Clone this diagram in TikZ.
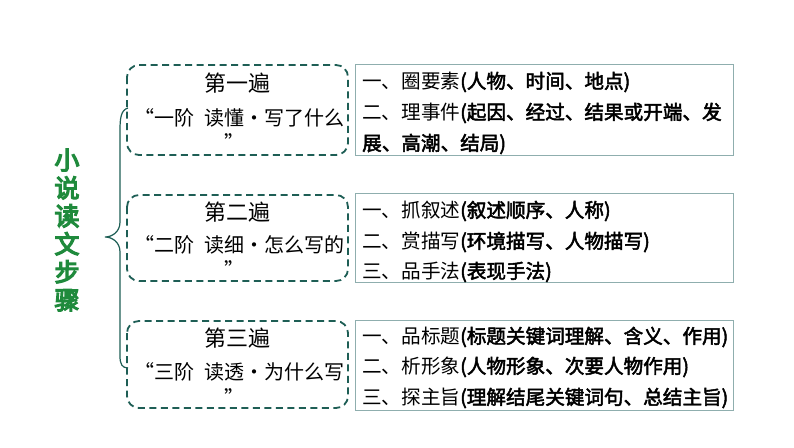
\documentclass[tikz,border=0pt]{standalone}
\usepackage{fontspec}
\setmainfont{Noto Sans CJK SC}
\newfontfamily\cjk{Noto Sans CJK SC}
\newfontfamily\cjkb[FakeBold=2.5]{Noto Sans CJK SC}
\newfontfamily\cjkt[FakeBold=5]{Noto Sans CJK SC}
\definecolor{teal}{HTML}{1E5E55}
\definecolor{titlegreen}{HTML}{1F8A3C}
\definecolor{boxgray}{HTML}{8FAEAE}
\newcommand{\rb}[1]{{\cjkb #1}}
\tikzset{
  x=1pt, y=-1pt,
  stagebox/.style={draw=teal, line width=1.8pt, dash pattern=on 7pt off 4.5pt, rounded corners=12pt},
  infobox/.style={draw=boxgray, line width=1pt},
  stagetxt/.style={font=\cjk\fontsize{20}{22}\selectfont, inner sep=0pt, text=black},
  stagehead/.style={font=\cjk\fontsize{22}{24}\selectfont, inner sep=0pt, text=black},
  infotxt/.style={font=\cjk\fontsize{19.6}{22}\selectfont, inner sep=0pt, anchor=west, text=black},
}
\begin{document}
\begin{tikzpicture}
\useasboundingbox (0,0) rectangle (794,447);
\fill[white] (0,0) rectangle (794,447);
% title
\node[font=\cjkt\fontsize{25}{28}\selectfont, text=titlegreen, align=center, inner sep=0pt] (title) at (67,230)
  {小\\[0pt]说\\[0pt]读\\[0pt]文\\[0pt]步\\[0pt]骤};
% brace
\coordinate (btop) at (128,108);
\coordinate (btip) at (105,237);
\coordinate (bbot) at (128,368);
\draw[teal, line width=1.2pt] (btop) .. controls (121,110) and (120,118) .. (120,130) -- (120,222)
  .. controls (120,232) and (112,237) .. (btip)
  .. controls (112,237) and (120,242) .. (120,252) -- (120,356)
  .. controls (120,364) and (122,368) .. (bbot);
% stage boxes
\draw[stagebox] (127,65) rectangle (348,155);
\draw[stagebox] (127,195) rectangle (348,281);
\draw[stagebox] (127,321) rectangle (348,408);
\node[stagehead] (s1a) at (237,83) {第一遍};
\node[stagetxt] (s1b) at (239,118) {“一阶\hspace{0.5em}读懂·写了什么};
\node[stagetxt] (s1c) at (234,142) {”};
\node[stagehead] (s2a) at (237,212) {第二遍};
\node[stagetxt] (s2b) at (239,245) {“二阶\hspace{0.5em}读细·怎么写的};
\node[stagetxt] (s2c) at (234,269) {”};
\node[stagehead] (s3a) at (237,338) {第三遍};
\node[stagetxt] (s3b) at (239,372) {“三阶\hspace{0.5em}读透·为什么写};
\node[stagetxt] (s3c) at (234,397) {”};
% info boxes
\draw[infobox] (355,64) rectangle (733,155);
\draw[infobox] (355,193) rectangle (733,282);
\draw[infobox] (355,320) rectangle (733,410);
\node[infotxt] (i1a) at (362,82) {一、圈要素\rb{(人物、时间、地点)}};
\node[infotxt] (i1b) at (362,113) {二、理事件\rb{(起因、经过、结果或开端、发}};
\node[infotxt] (i1c) at (362,144) {\rb{展、高潮、结局)}};
\node[infotxt] (i2a) at (362,211) {一、抓叙述\rb{(叙述顺序、人称)}};
\node[infotxt] (i2b) at (362,242) {二、赏描写\rb{(环境描写、人物描写)}};
\node[infotxt] (i2c) at (362,272) {三、品手法\rb{(表现手法)}};
\node[infotxt] (i3a) at (362,337) {一、品标题\rb{(标题关键词理解、含义、作用)}};
\node[infotxt] (i3b) at (362,367) {二、析形象\rb{(人物形象、次要人物作用)}};
\node[infotxt] (i3c) at (362,398) {三、探主旨\rb{(理解结尾关键词句、总结主旨)}};
\end{tikzpicture}
\end{document}
